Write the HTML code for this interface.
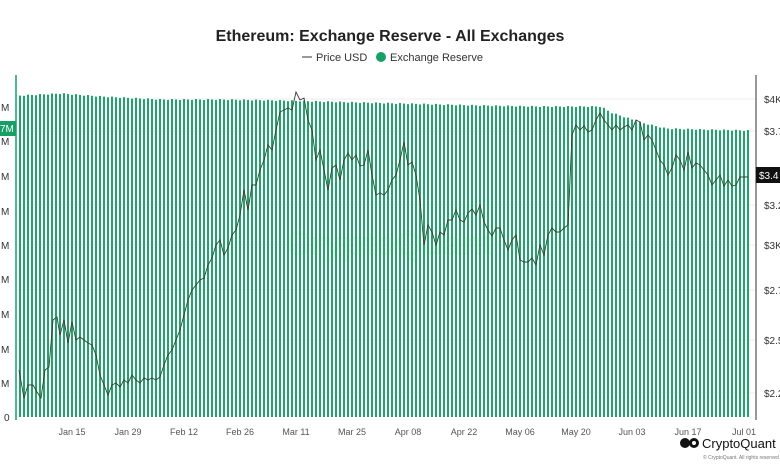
<!DOCTYPE html>
<html><head><meta charset="utf-8"><style>
body{margin:0;background:#fff;width:780px;height:470px;overflow:hidden;font-family:"Liberation Sans",sans-serif}
</style></head><body>
<svg id="s" width="780" height="470" xmlns="http://www.w3.org/2000/svg" font-family="Liberation Sans, sans-serif">
<text x="390" y="41" text-anchor="middle" font-size="16" font-weight="bold" fill="#222">Ethereum: Exchange Reserve - All Exchanges</text>
<line x1="302" y1="57" x2="312" y2="57" stroke="#333" stroke-width="1"/>
<text x="316" y="61" font-size="11" fill="#333">Price USD</text>
<circle cx="381" cy="57" r="5" fill="#16a067"/>
<text x="390" y="61" font-size="11" fill="#333">Exchange Reserve</text>
<g id="grid" stroke="#eee" stroke-width="1"></g>
<text x="390" y="255" text-anchor="middle" font-size="34" fill="#eeeeee" font-weight="bold">CryptoQuant</text>
<g id="bars" fill="#1da56c"></g>
<polyline id="pl" fill="none" stroke="#3a3a3a" stroke-width="0.9"/>
<line x1="16" y1="75" x2="16" y2="420" stroke="#16a067" stroke-width="1.5"/>
<line x1="756" y1="75" x2="756" y2="420" stroke="#333" stroke-width="1"/>
<g font-size="10" fill="#333" id="ly"></g>
<rect x="0" y="121" width="16" height="15" fill="#16a067"/>
<text x="0" y="132" font-size="10" fill="#fff">7M</text>
<g font-size="10" fill="#333" id="ry"></g>
<rect x="756" y="167" width="24" height="16" fill="#111"/>
<text x="759" y="179" font-size="10" fill="#fff">$3.4</text>
<g font-size="9" fill="#555" id="xl"></g>
<circle cx="685" cy="443" r="5" fill="#111"/><circle cx="694" cy="443" r="5" fill="#111"/><circle cx="694" cy="443" r="2" fill="#fff"/>
<text x="702" y="448" font-size="13" fill="#111">CryptoQuant</text>
<text x="703" y="459" font-size="5" fill="#777">© CryptoQuant. All rights reserved</text>
</svg>
<script>
(function(){
var NS="http://www.w3.org/2000/svg";
function el(p,t,a,txt){var e=document.createElementNS(NS,t);for(var k in a)e.setAttribute(k,a[k]);if(txt)e.textContent=txt;document.getElementById(p).appendChild(e);}
var ly=[[417,"0"],[383,"M"],[349,"M"],[314,"M"],[279,"M"],[245,"M"],[211,"M"],[176,"M"],[141,"M"],[107,"M"]];
ly.forEach(function(d){el("ly","text",{x:d[1]=="0"?4:1,y:d[0]+4},d[1]);});
var ry=[[99,"$4K"],[131,"$3.7"],[205,"$3.2"],[245,"$3K"],[290,"$2.7"],[340,"$2.5"],[393,"$2.2"]];
ry.forEach(function(d){el("ry","text",{x:764,y:d[0]+4},d[1]);el("grid","line",{x1:16,x2:756,y1:d[0],y2:d[0]});});
[["Jan 15",72],["Jan 29",128],["Feb 12",184],["Feb 26",240],["Mar 11",296],["Mar 25",352],["Apr 08",408],["Apr 22",464],["May 06",520],["May 20",576],["Jun 03",632],["Jun 17",688],["Jul 01",744]].forEach(function(d){el("xl","text",{x:d[1],y:435,"text-anchor":"middle"},d[0]);});
var tk=[[20,95],[60,93],[100,96],[160,99],[220,99],[280,100],[320,101],[360,102],[400,103],[440,104],[480,105],[540,106],[580,106],[600,106],[610,112],[640,122],[665,128],[700,129],[749,130]];
function barTop(x){for(var i=0;i<tk.length-1;i++){if(x<=tk[i+1][0]){var a=tk[i],b=tk[i+1];return a[1]+(b[1]-a[1])*(x-a[0])/(b[0]-a[0]);}}return 130;}
for(var x=19;x<=749;x+=4){var t=barTop(x)+((x*7)%3)*0.5;el("bars","rect",{x:x,y:t,width:2,height:417-t});}
var p=[[19,370],[24,398],[28,385],[33,385],[37,392],[41,398],[45,370],[49,367],[53,320],[57,317],[60,335],[64,320],[68,343],[72,322],[76,340],[80,337],[84,340],[88,343],[92,345],[96,355],[100,375],[104,385],[108,395],[112,385],[116,383],[120,387],[124,380],[128,383],[132,375],[136,380],[140,383],[144,378],[148,380],[152,378],[156,380],[160,377],[164,365],[168,355],[172,350],[176,340],[180,330],[184,315],[188,300],[192,290],[196,285],[200,280],[204,278],[208,265],[212,258],[216,245],[220,240],[224,255],[228,248],[232,235],[236,230],[240,215],[244,190],[248,210],[252,185],[256,185],[260,170],[264,160],[268,145],[272,150],[276,130],[280,112],[284,110],[288,108],[292,110],[296,92],[300,100],[304,98],[308,120],[312,130],[316,160],[320,150],[324,170],[328,190],[332,168],[336,165],[340,180],[344,160],[348,153],[352,160],[356,155],[360,166],[364,165],[368,150],[372,175],[376,195],[380,193],[384,195],[388,190],[392,180],[396,175],[400,160],[404,142],[408,165],[412,162],[416,175],[420,200],[424,245],[428,225],[432,232],[436,245],[440,232],[444,235],[448,220],[452,220],[456,210],[460,220],[464,222],[468,213],[472,209],[476,215],[480,205],[484,222],[488,230],[492,236],[496,228],[500,228],[504,240],[508,250],[512,240],[516,235],[520,260],[524,262],[528,262],[532,258],[536,265],[540,245],[544,255],[548,235],[552,228],[556,232],[560,232],[564,228],[568,225],[572,135],[576,125],[580,130],[584,126],[588,132],[592,130],[596,120],[600,113],[604,120],[608,125],[612,130],[616,125],[620,130],[624,127],[628,125],[632,130],[636,120],[640,122],[644,140],[648,135],[652,140],[656,150],[660,160],[664,165],[668,175],[672,168],[676,155],[680,160],[684,170],[688,152],[692,168],[696,163],[700,165],[704,170],[708,175],[712,185],[716,180],[720,175],[724,186],[728,180],[732,186],[736,185],[740,177],[744,177],[748,177]];
document.getElementById("pl").setAttribute("points",p.map(function(a){return a.join(",");}).join(" "));
})();
</script>
</body></html>
